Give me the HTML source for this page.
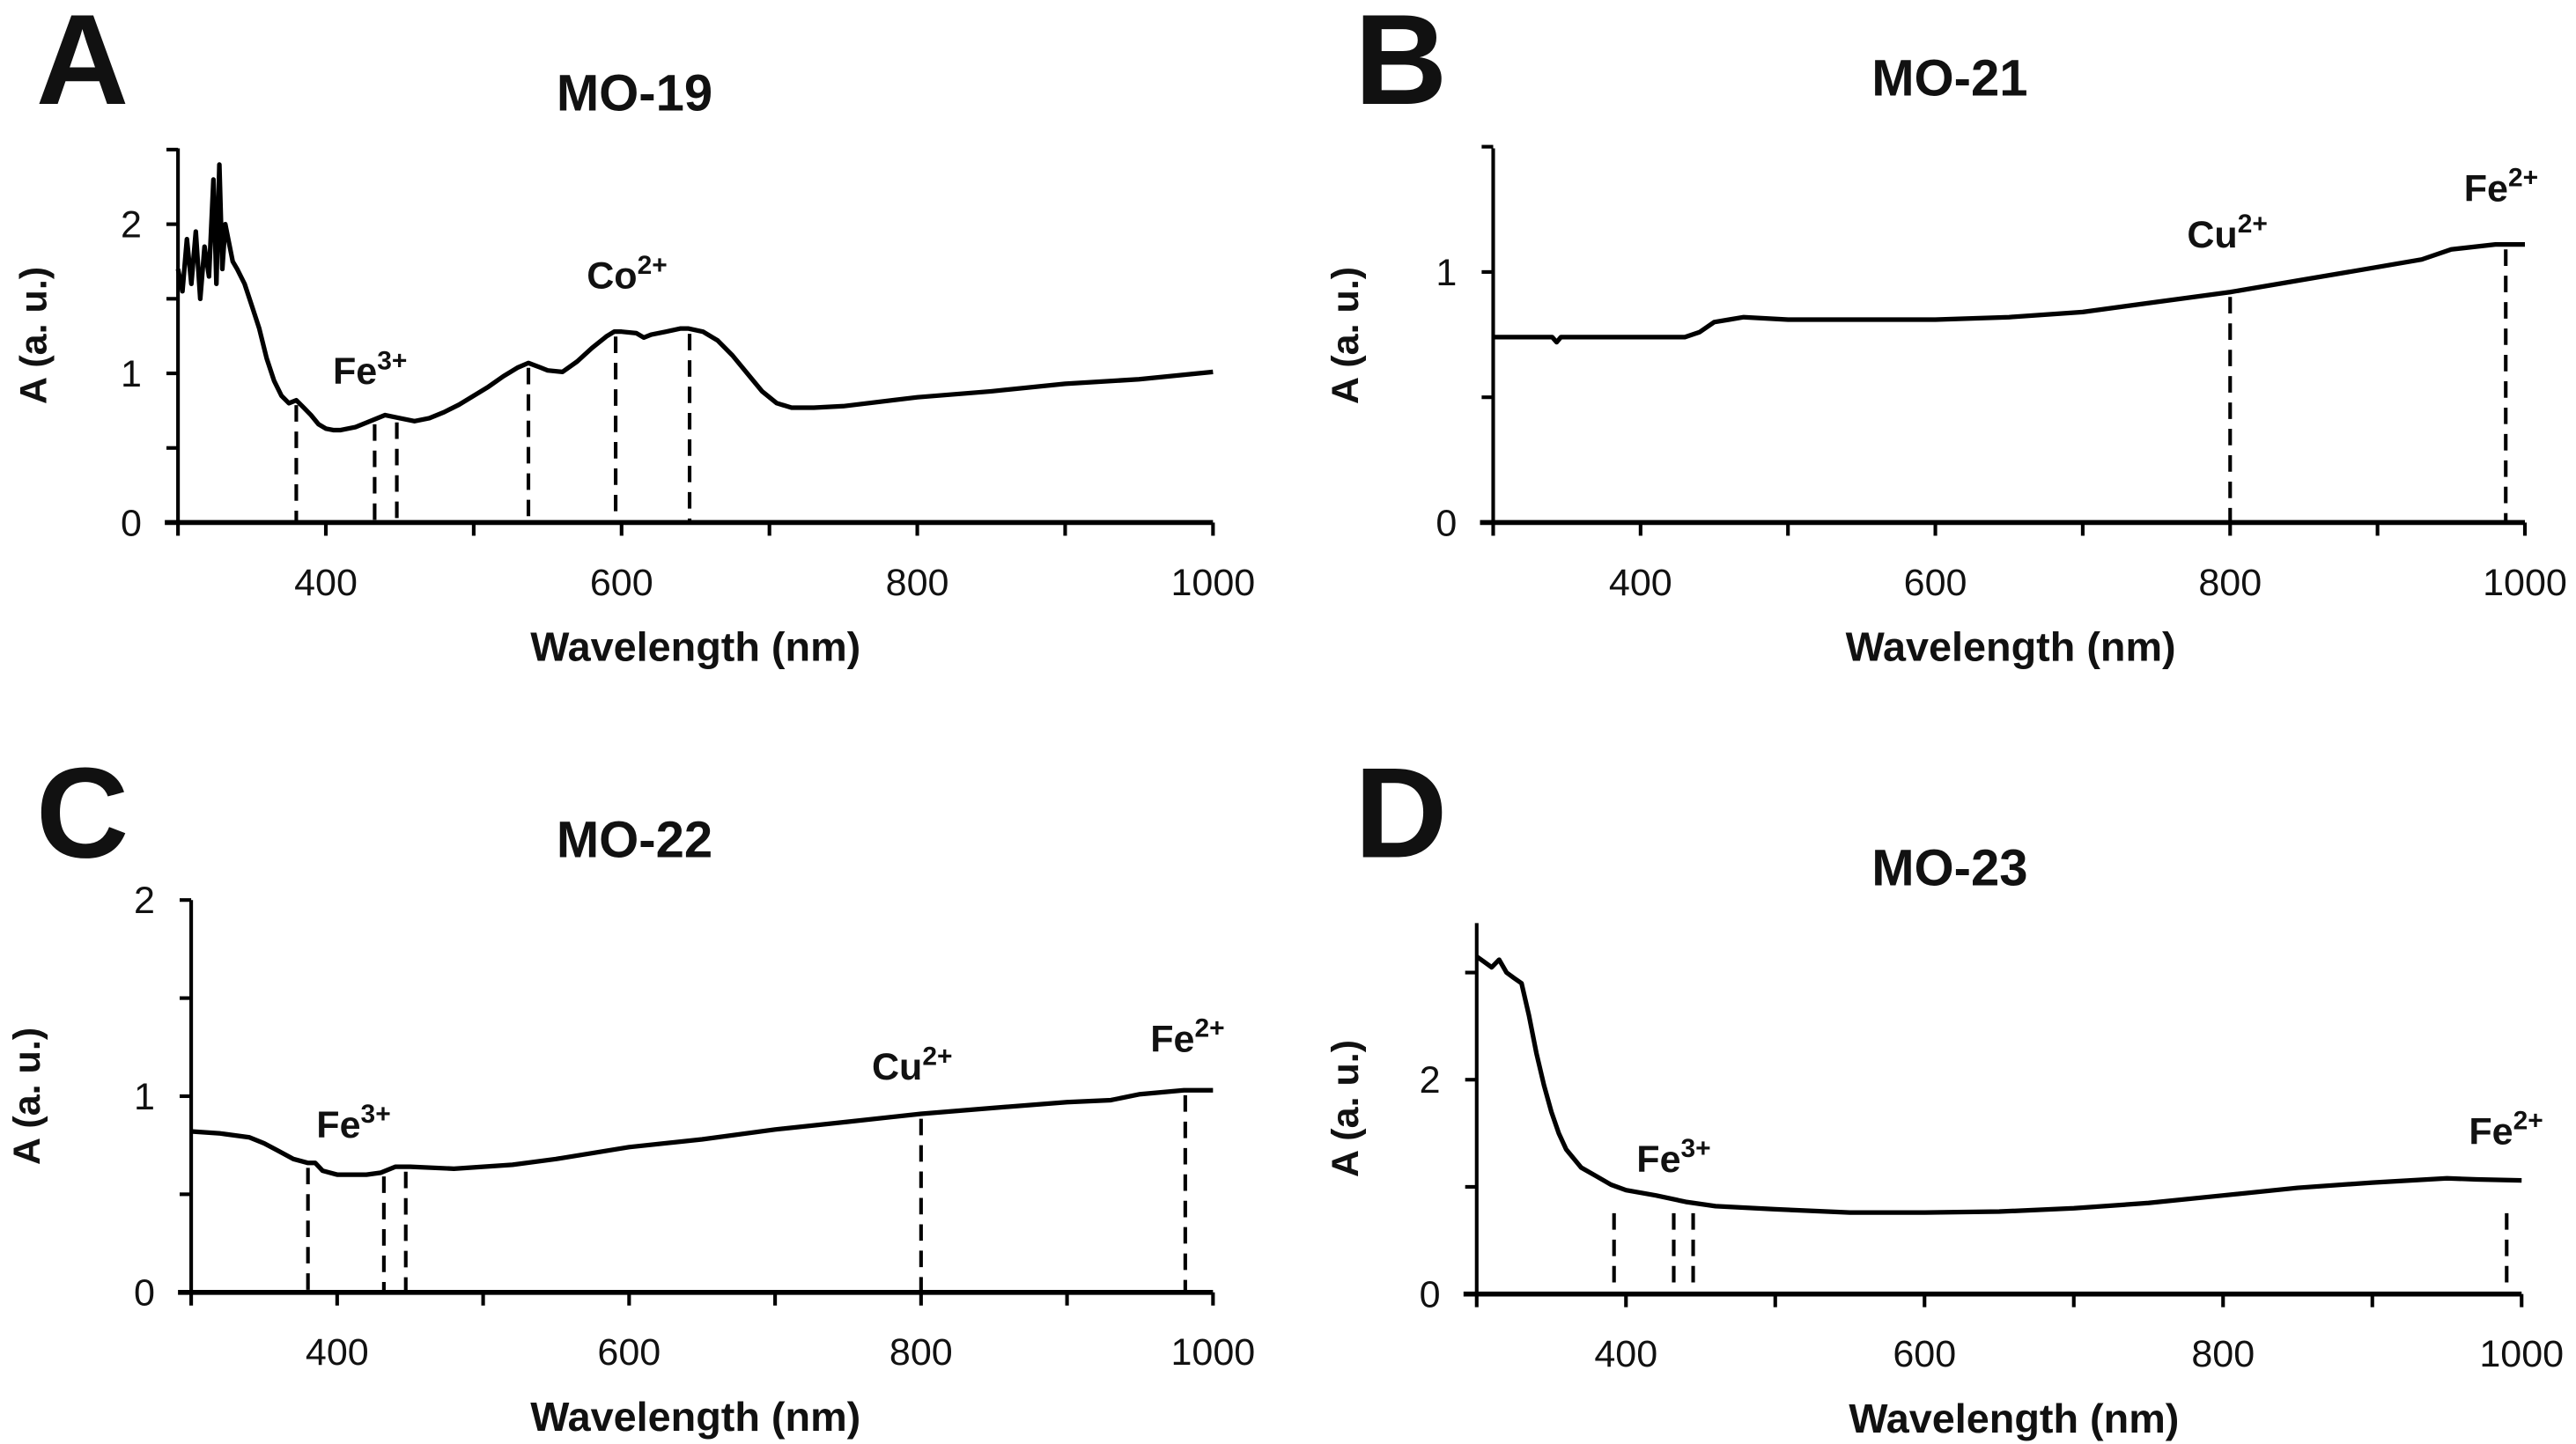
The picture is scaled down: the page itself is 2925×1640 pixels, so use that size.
<!DOCTYPE html>
<html><head><meta charset="utf-8"><style>
html,body{margin:0;padding:0;background:#fff;}
svg{display:block;}
text{font-family:"Liberation Sans Narrow","Liberation Sans",sans-serif;fill:#111;}
.b{font-weight:bold;}
</style></head><body>
<svg id="fig" width="2925" height="1640" viewBox="0 0 1563 876" preserveAspectRatio="none" xmlns="http://www.w3.org/2000/svg"></svg>
<script>
// Panel A: MO-19
const aWave = [300,303,306,309,312,315,318,321,324,326,328,330,332,334,337,340,345,350,355,360,365,370,375,380,385,390,395,400,405,410,420,430,440,450,460,470,480,490,500,510,520,530,537,545,550,560,570,580,590,595,600,610,615,620,630,640,645,655,665,675,685,695,705,715,730,750,800,850,900,950,1000];
const aAbs  = [1.7,1.55,1.9,1.6,1.95,1.5,1.85,1.65,2.3,1.6,2.4,1.7,2.0,1.9,1.75,1.7,1.6,1.45,1.3,1.1,0.95,0.85,0.8,0.82,0.77,0.72,0.66,0.63,0.62,0.62,0.64,0.68,0.72,0.70,0.68,0.70,0.74,0.79,0.85,0.91,0.98,1.04,1.07,1.04,1.02,1.01,1.08,1.17,1.25,1.28,1.28,1.27,1.24,1.26,1.28,1.30,1.30,1.28,1.22,1.12,1.0,0.88,0.80,0.77,0.77,0.78,0.84,0.88,0.93,0.96,1.01];
const aMarks = [380,433,448,537,596,646];
const aYTicks = [0,1,2];
// Panel B: MO-21
const bWave = [300,340,343,346,430,440,450,460,470,500,600,650,700,750,800,850,900,930,950,980,1000];
const bAbs  = [0.74,0.74,0.72,0.74,0.74,0.76,0.80,0.81,0.82,0.81,0.81,0.82,0.84,0.88,0.92,0.97,1.02,1.05,1.09,1.11,1.11];
const bMarks = [800,987];
const bYTicks = [0,1];
// Panel C: MO-22
const cWave = [300,320,340,350,360,370,380,385,390,400,420,430,440,450,480,520,550,600,650,700,750,800,850,900,930,950,980,1000];
const cAbs  = [0.82,0.81,0.79,0.76,0.72,0.68,0.66,0.66,0.62,0.60,0.60,0.61,0.64,0.64,0.63,0.65,0.68,0.74,0.78,0.83,0.87,0.91,0.94,0.97,0.98,1.01,1.03,1.03];
const cMarks = [380,432,447,800,981];
const cYTicks = [0,1,2];
// Panel D: MO-23
const dWave = [300,305,310,315,320,325,330,335,340,345,350,355,360,370,380,390,400,420,440,460,500,550,600,650,700,750,800,850,900,950,970,1000];
const dAbs  = [3.15,3.1,3.05,3.12,3.0,2.95,2.9,2.6,2.25,1.95,1.7,1.5,1.35,1.18,1.1,1.02,0.97,0.92,0.86,0.82,0.79,0.76,0.76,0.77,0.80,0.85,0.92,0.99,1.04,1.08,1.07,1.06];
const dMarks = [392,432,445,990];
const dYTicks = [0,2];
const xTicks = [400,600,800,1000];

const NS="http://www.w3.org/2000/svg";
const svg=document.getElementById('fig');
function el(tag,attrs,parent){const e=document.createElementNS(NS,tag);for(const k in attrs)e.setAttribute(k,attrs[k]);(parent||svg).appendChild(e);return e;}

function panel(cfg){
  const g=el('g',{});
  
  
  const X=w=>cfg.x0+(w-300)/700*(cfg.x1-cfg.x0);
  const Y=v=>cfg.y0-v*cfg.yu;
  const L=el('text',{x:cfg.lx,y:cfg.ly,'font-size':78,'font-family':'Liberation Sans, sans-serif',class:'b','text-anchor':'middle'},g);
  L.textContent=cfg.letter;
  
  const T=el('text',{x:cfg.tx,y:cfg.ty,'font-size':31,class:'b','text-anchor':'middle'},g);
  T.textContent=cfg.title;
  
  const ya=el('line',{x1:cfg.x0,y1:cfg.y0,x2:cfg.x0,y2:cfg.ytop,stroke:'#000','stroke-width':2.2},g);
  
  const xa=el('line',{x1:cfg.x0-8,y1:cfg.y0,x2:cfg.x1,y2:cfg.y0,stroke:'#000','stroke-width':3},g);
  
  for(let w=300;w<=1000;w+=100){el('line',{x1:X(w),y1:cfg.y0,x2:X(w),y2:cfg.y0+8,stroke:'#000','stroke-width':2.2},g);}
  for(let v=0;Y(v)>=cfg.ytop-1;v+=cfg.minor){el('line',{x1:cfg.x0-7,y1:Y(v),x2:cfg.x0,y2:Y(v),stroke:'#000','stroke-width':2.2},g);}
  xTicks.forEach(t=>{const e=el('text',{x:X(t),y:cfg.y0+44,'font-size':23,'text-anchor':'middle'},g);e.textContent=t;
    });
  cfg.yt.forEach(t=>{const e=el('text',{x:cfg.x0-22,y:Y(t)+8,'font-size':23,'text-anchor':'end'},g);e.textContent=t;
    });
  const xt=el('text',{x:cfg.xtx,y:cfg.y0+84,'font-size':25,class:'b','text-anchor':'middle'},g);
  xt.textContent='Wavelength (nm)';
  const yc=(cfg.y0+cfg.ytop)/2;
  const yt=el('text',{x:cfg.ytx,y:yc,'font-size':23,class:'b','font-family':'Liberation Sans, sans-serif','text-anchor':'middle',transform:`rotate(-90 ${cfg.ytx} ${yc})`},g);
  yt.textContent='A (a. u.)';
  const interp=w=>{for(let i=1;i<cfg.w.length;i++){if(w<=cfg.w[i]){const t=(w-cfg.w[i-1])/(cfg.w[i]-cfg.w[i-1]);return cfg.a[i-1]+t*(cfg.a[i]-cfg.a[i-1]);}}return cfg.a[cfg.a.length-1];};
  const d=cfg.w.map((w,i)=>(i?'L':'M')+X(w).toFixed(1)+','+Y(cfg.a[i]).toFixed(1)).join(' ');
  const p=el('path',{d:d,fill:'none',stroke:'#000','stroke-width':2.8,'stroke-linejoin':'round'},g);
  
  cfg.m.forEach(w=>{const top=cfg.mtop!==undefined?cfg.mtop:interp(w);
    const l=el('line',{x1:X(w),y1:Y(top)+3,x2:X(w),y2:cfg.y0,stroke:'#000','stroke-width':2.2,'stroke-dasharray':'10,6'},g);
    });
  cfg.lab.forEach(o=>{const e=el('text',{x:o[1],y:o[2],'font-size':23,class:'b'},g);
    
    e.textContent=o[0];const s=el('tspan',{'font-size':16,dy:-9},e);s.textContent=o[3];});
}

panel({id:'a',letter:'A',title:'MO-19',lx:50,ly:63,tx:385,ty:67,x0:108,x1:736,y0:317,yu:90.5,ytop:90,minor:0.5,yt:aYTicks,w:aWave,a:aAbs,m:aMarks,xtx:422,ytx:28,
  lab:[['Fe',202,233,'3+'],['Co',356,175,'2+']]});
panel({id:'b',letter:'B',title:'MO-21',lx:850,ly:63,tx:1183,ty:58,x0:906,x1:1532,y0:317,yu:152,ytop:90,minor:0.5,yt:bYTicks,w:bWave,a:bAbs,m:bMarks,xtx:1220,ytx:824,
  lab:[['Cu',1327,150,'2+'],['Fe',1495,122,'2+']]});
panel({id:'c',letter:'C',title:'MO-22',lx:50,ly:520,tx:385,ty:520,x0:116,x1:736,y0:784,yu:119,ytop:546,minor:0.5,yt:cYTicks,w:cWave,a:cAbs,m:cMarks,xtx:422,ytx:24,
  lab:[['Fe',192,690,'3+'],['Cu',529,655,'2+'],['Fe',698,638,'2+']]});
panel({id:'d',letter:'D',title:'MO-23',lx:850,ly:520,tx:1183,ty:537,x0:896,x1:1530,y0:785,yu:65,ytop:560,minor:1,yt:dYTicks,w:dWave,a:dAbs,m:dMarks,mtop:0.8,xtx:1222,ytx:824,
  lab:[['Fe',993,711,'3+'],['Fe',1498,694,'2+']]});
</script>
</body></html>
